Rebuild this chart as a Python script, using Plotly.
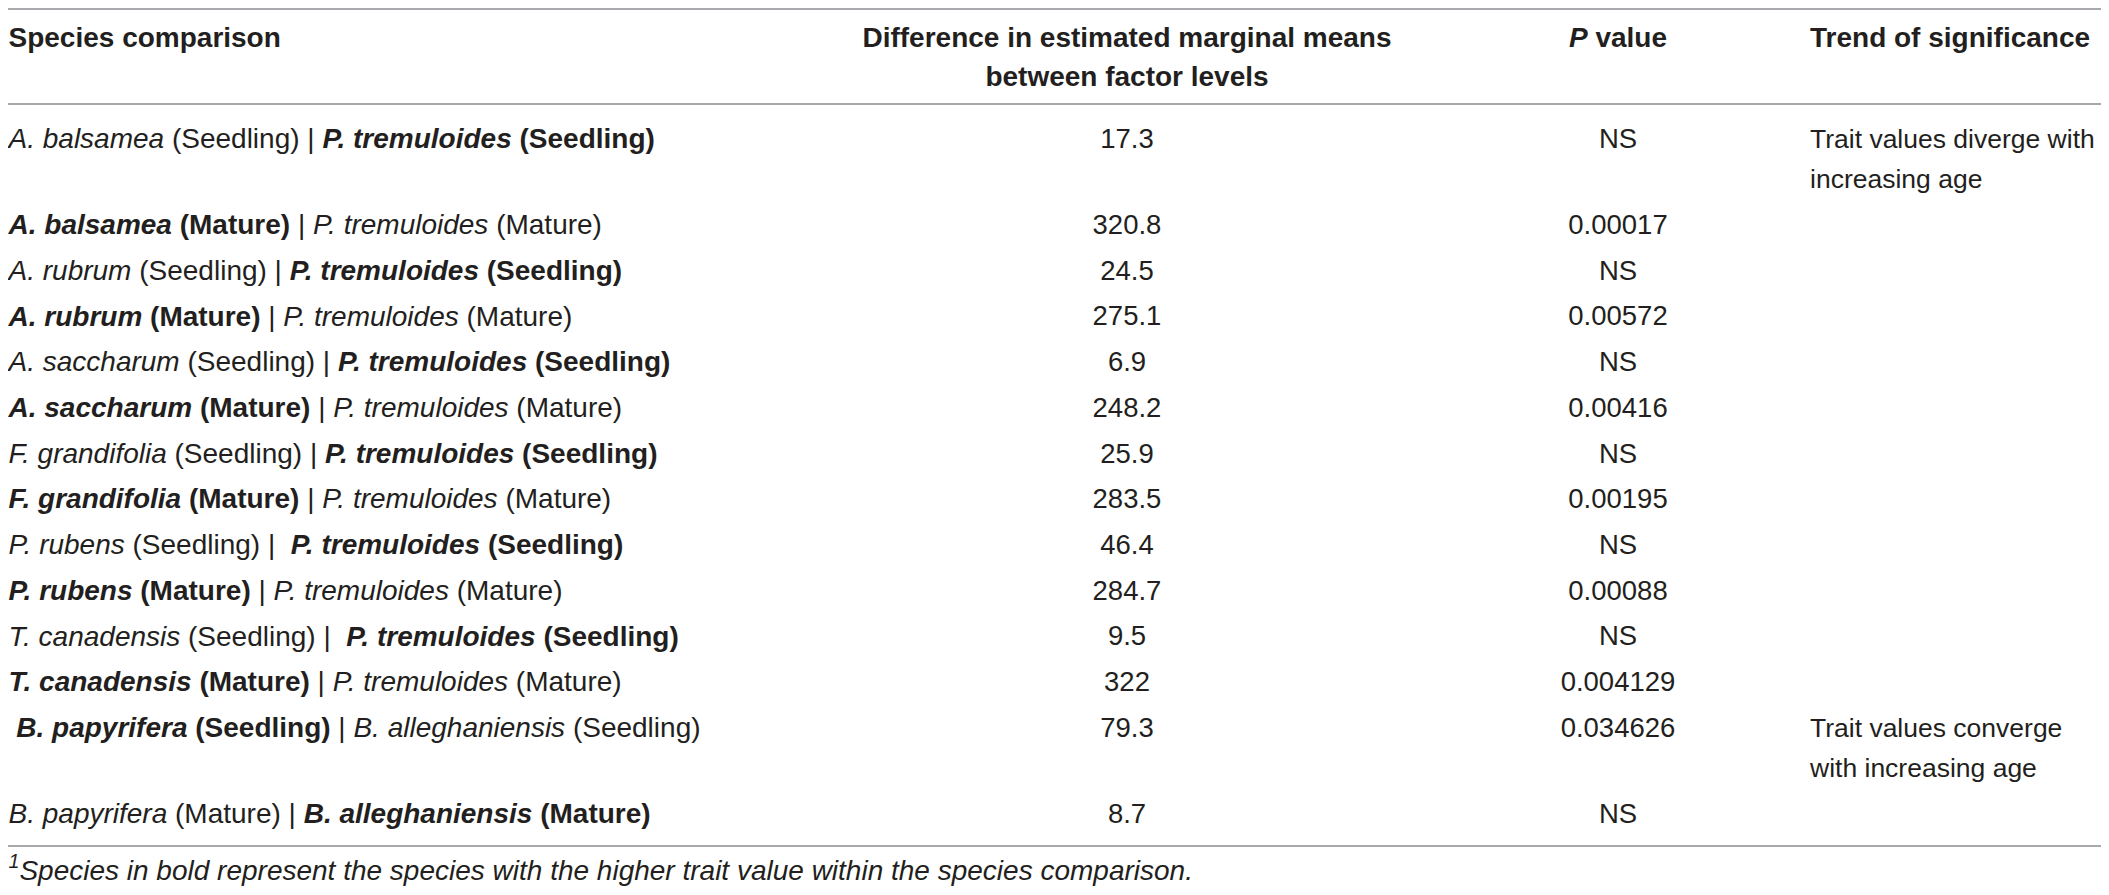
import plotly.graph_objects as go

# table content
species_a = ["A. balsamea", "A. balsamea", "A. rubrum", "A. rubrum",
             "A. saccharum", "A. saccharum", "F. grandifolia", "F. grandifolia",
             "P. rubens", "P. rubens", "T. canadensis", "T. canadensis",
             "B. papyrifera", "B. papyrifera"]
species_b = ["P. tremuloides"] * 12 + ["B. alleghaniensis"] * 2
stage = ["Seedling", "Mature"] * 7
higher = ["b", "a", "b", "a", "b", "a", "b", "a", "b", "a", "b", "a", "a", "b"]
diff_means = [17.3, 320.8, 24.5, 275.1, 6.9, 248.2, 25.9, 283.5,
              46.4, 284.7, 9.5, 322, 79.3, 8.7]
p_values = ["NS", "0.00017", "NS", "0.00572", "NS", "0.00416", "NS", "0.00195",
            "NS", "0.00088", "NS", "0.004129", "0.034626", "NS"]
trend = [["Trait values diverge with", "increasing age"]] + [[]] * 11 + \
        [["Trait values converge", "with increasing age"], []]
# stray spaces as typeset in the source table
lead_space = [0] * 12 + [1, 0]
pipe_space = [1] * 8 + [2, 1, 2, 1, 1, 1]

headers = [["Species comparison"],
           ["Difference in estimated marginal means", "between factor levels"],
           ["<i>P</i> value"],
           ["Trend of significance"]]
footnote = "<i><sup>1</sup>Species in bold represent the species with the higher trait value within the species comparison.</i>"

# look (coordinates are page pixels; body margin of 8px around the figure)
W, H = 2109, 895
PAD = 8
FONT = "Liberation Sans"
INK = "#231f20"
RULE = "#a7a9ac"
X_COMP, X_DIFF, X_P, X_TREND = 8.5, 1127, 1618, 1810
HEAD_Y, HEAD_LH = 40, 39
ROW_Y0, ROW_H, LINE_H = 141, 45.7, 40.5
LABEL_SIZE, BODY_SIZE, TREND_SIZE, HEAD_SIZE = 28, 27.5, 26.5, 28


def cell(sp, st, bold):
    s = f"<i>{sp}</i> ({st})"
    return f"<b>{s}</b>" if bold else s


labels = []
for a, b, st, h, ls, ps in zip(species_a, species_b, stage, higher,
                               lead_space, pipe_space):
    labels.append("&nbsp;" * ls + cell(a, st, h == "a") + " |" +
                  "&nbsp;" * (ps - 1) + " " + cell(b, st, h == "b"))

# row positions
row_y = []
y = ROW_Y0
for t in trend:
    row_y.append(y)
    y += ROW_H + LINE_H * max(len(t) - 1, 0)
bottom_rule = row_y[-1] + 30

fig = go.Figure()

# header
hx, hy, ht, hp = [], [], [], []
for col, (lines, x) in enumerate(zip(headers, [X_COMP, X_DIFF, X_P, X_TREND])):
    for i, line in enumerate(lines):
        hx.append(x)
        hy.append(HEAD_Y + i * HEAD_LH)
        ht.append(f"<b>{line}</b>")
        hp.append("middle right" if col in (0, 3) else "middle center")
fig.add_trace(go.Scatter(x=hx, y=hy, text=ht, mode="text", textposition=hp,
                         textfont=dict(family=FONT, size=HEAD_SIZE, color=INK),
                         cliponaxis=False, hoverinfo="skip"))

body = dict(family=FONT, size=BODY_SIZE, color=INK)
fig.add_trace(go.Scatter(x=[X_COMP] * len(labels), y=row_y, text=labels,
                         mode="text", textposition="middle right",
                         textfont=dict(body, size=LABEL_SIZE),
                         cliponaxis=False, hoverinfo="skip"))
fig.add_trace(go.Scatter(x=[X_DIFF] * len(diff_means), y=row_y,
                         text=[f"{v:g}" for v in diff_means],
                         mode="text", textposition="middle center",
                         textfont=body, hoverinfo="skip"))
fig.add_trace(go.Scatter(x=[X_P] * len(p_values), y=row_y, text=p_values,
                         mode="text", textposition="middle center",
                         textfont=body, hoverinfo="skip"))
tx, ty, tt = [], [], []
for yy, lines in zip(row_y, trend):
    for i, line in enumerate(lines):
        tx.append(X_TREND)
        ty.append(yy + i * LINE_H)
        tt.append(line)
fig.add_trace(go.Scatter(x=tx, y=ty, text=tt, mode="text",
                         textposition="middle right",
                         textfont=dict(body, size=TREND_SIZE),
                         cliponaxis=False, hoverinfo="skip"))
fig.add_trace(go.Scatter(x=[X_COMP], y=[bottom_rule + 27], text=[footnote],
                         mode="text", textposition="middle right",
                         textfont=dict(body, size=LABEL_SIZE),
                         cliponaxis=False, hoverinfo="skip"))

for yy in [PAD + 1, 104, bottom_rule]:
    fig.add_shape(type="line", xref="paper", x0=0, x1=1, yref="y", y0=yy, y1=yy,
                  line=dict(color=RULE, width=2))

fig.update_layout(
    width=W - 2 * PAD, height=H - 2 * PAD,
    margin=dict(l=0, r=0, t=0, b=0),
    paper_bgcolor="white", plot_bgcolor="white",
    showlegend=False,
    xaxis=dict(range=[PAD, W - PAD], visible=False, fixedrange=True),
    yaxis=dict(range=[H - PAD, PAD], visible=False, fixedrange=True),
)

fig.write_html("out.html")
